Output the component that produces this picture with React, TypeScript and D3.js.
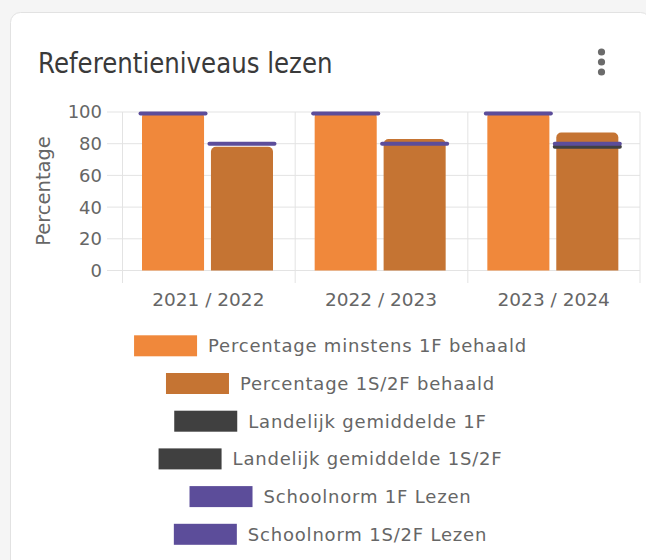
import React, { useLayoutEffect, useRef, useState } from 'react';
import * as d3 from 'd3';

const years = ['2021 / 2022', '2022 / 2023', '2023 / 2024'];
const pct1F = [100, 100, 100];
const pct2F = [78, 83, 87];
const landelijk1F: (number | null)[] = [null, null, null];
const landelijk2F: (number | null)[] = [null, null, 78];
const norm1F = [99, 99, 99];
const norm2F = [80, 80, 80];
const yTicks = [0, 20, 40, 60, 80, 100];
const legendLabels = [
  'Percentage minstens 1F behaald',
  'Percentage 1S/2F behaald',
  'Landelijk gemiddelde 1F',
  'Landelijk gemiddelde 1S/2F',
  'Schoolnorm 1F Lezen',
  'Schoolnorm 1S/2F Lezen',
];
const legendColors = ['#F0883B', '#C57433', '#404040', '#404040', '#5C4D9A', '#5C4D9A'];

const FONT = "'DejaVu Sans', sans-serif";

function topRounded(x: number, y: number, w: number, h: number, r: number) {
  const p = d3.path();
  p.moveTo(x, y + h);
  p.lineTo(x, y + r);
  p.arcTo(x, y, x + r, y, r);
  p.lineTo(x + w - r, y);
  p.arcTo(x + w, y, x + w, y + r, r);
  p.lineTo(x + w, y + h);
  p.closePath();
  return p.toString();
}

export default function App() {
  const W = 646, H = 560;
  const x = d3.scaleBand<string>().domain(years).range([122, 640]);
  const x1 = d3.scaleBand<string>().domain(['a', 'b']).range([20, 151]).paddingInner(0.1);
  const y = d3.scaleLinear().domain([0, 100]).range([270.5, 112]);
  const bw = x1.bandwidth();

  const series = [
    { vals: pct1F, key: 'a', color: legendColors[0] },
    { vals: pct2F, key: 'b', color: legendColors[1] },
  ];
  const lines = [
    { vals: landelijk1F, key: 'a', color: '#404040' },
    { vals: landelijk2F, key: 'b', color: '#404040' },
    { vals: norm1F, key: 'a', color: '#5C4D9A' },
    { vals: norm2F, key: 'b', color: '#5C4D9A' },
  ];

  const textRefs = useRef<(SVGTextElement | null)[]>([]);
  const [tw, setTw] = useState<number[]>(legendLabels.map(() => 250));
  useLayoutEffect(() => {
    setTw(textRefs.current.map((t) => (t ? t.getComputedTextLength() : 250)));
  }, []);

  const swW = 63;
  const legendCx = 330.5;
  const LFS = 18;

  return (
    <svg width={W} height={H} style={{ position: 'absolute', left: 0, top: 0 }} fontFamily={FONT}>
      <rect x={0} y={0} width={W} height={H} fill="#f5f5f5" />
      <rect x={10.5} y={12.5} width={640} height={560} rx={10} fill="#fff" stroke="#e2e2e2" />
      <text transform="translate(38,73) scale(1,1.15)" fontSize={24.5} fill="#3a3a3a">Referentieniveaus lezen</text>
      {[52, 62, 72].map((cy) => (
        <circle key={cy} cx={601.5} cy={cy} r={3.6} fill="#6b6b6b" />
      ))}

      {yTicks.map((t) => (
        <g key={t}>
          <line x1={107} x2={640} y1={y(t)} y2={y(t)} stroke="#e3e3e3" strokeWidth={1} />
          <text x={102} y={y(t)} dy="0.36em" textAnchor="end" fontSize={18} fill="#666">{t}</text>
        </g>
      ))}
      {years.map((yr) => (
        <line key={yr} x1={(x(yr) as number) + 0.5} x2={(x(yr) as number) + 0.5} y1={y(100)} y2={283} stroke="#e3e3e3" />
      ))}
      <line x1={640} x2={640} y1={y(100)} y2={283} stroke="#e3e3e3" />
      <text transform={`translate(50,191) rotate(-90)`} textAnchor="middle" fontSize={19.5} fill="#666">Percentage</text>

      {years.map((yr) => (
        <text key={yr} x={(x(yr) as number) + x.bandwidth() / 2} y={306} textAnchor="middle" fontSize={18.5} fill="#666">{yr}</text>
      ))}

      {series.map((s) =>
        s.vals.map((v, i) => {
          const bx = (x(years[i]) as number) + (x1(s.key) as number);
          return <path key={s.key + i} d={topRounded(bx, y(v), bw, y(0) - y(v), 5)} fill={s.color} />;
        })
      )}
      {lines.map((l, li) =>
        l.vals.map((v, i) => {
          if (v == null) return null;
          const bx = (x(years[i]) as number) + (x1(l.key) as number);
          return (
            <line key={li + '-' + i} x1={bx - 1.5} x2={bx + bw + 1.5} y1={y(v)} y2={y(v)} stroke={l.color} strokeWidth={4} strokeLinecap="round" />
          );
        })
      )}

      {legendLabels.map((lab, i) => {
        const total = swW + 11 + tw[i];
        const lx = legendCx - total / 2;
        const cy = 345.8 + i * 37.7;
        return (
          <g key={lab}>
            <rect x={lx} y={cy - 10.5} width={swW} height={21} fill={legendColors[i]} />
            <text ref={(el) => { textRefs.current[i] = el; }} x={lx + swW + 11} y={cy} dy="0.36em" fontSize={LFS} letterSpacing={0.8} fill="#666">{lab}</text>
          </g>
        );
      })}
    </svg>
  );
}
